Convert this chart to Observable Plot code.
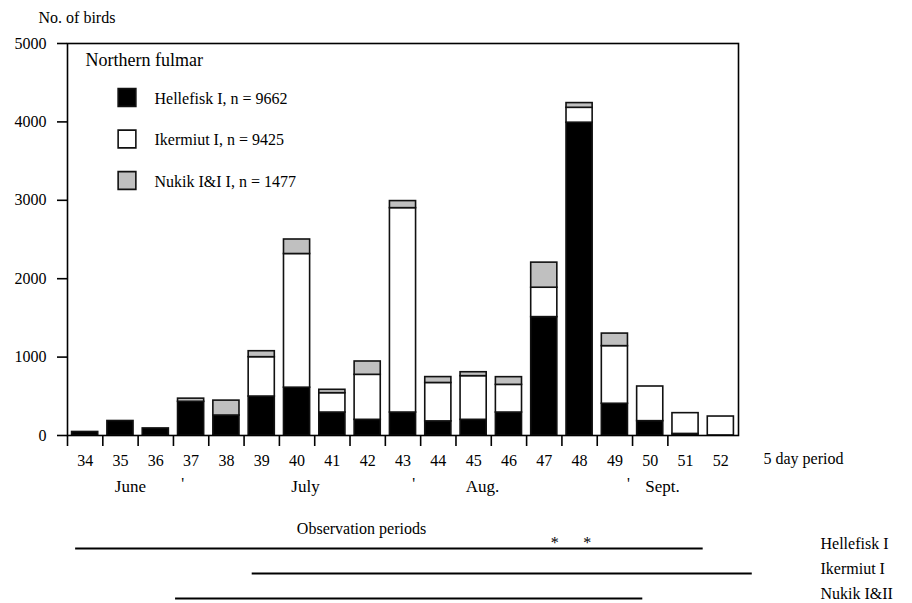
<!DOCTYPE html>
<html>
<head>
<meta charset="utf-8">
<script src="https://cdn.jsdelivr.net/npm/d3@7"></script>
<script src="https://cdn.jsdelivr.net/npm/@observablehq/plot@0.6"></script>
<style>
  html, body { margin: 0; padding: 0; background: white; }
  #chart { width: 912px; height: 603px; overflow: hidden; }
  #chart svg { display: block; }
</style>
</head>
<body>
<div id="chart"></div>
<script>
// Five-day periods (x axis)
const periods = [34, 35, 36, 37, 38, 39, 40, 41, 42, 43, 44, 45, 46, 47, 48, 49, 50, 51, 52];

// Number of Northern fulmars per five-day period, per colony
const hellefisk = [45, 185, 90, 430, 255, 497, 610, 293, 200, 293, 180, 200, 293, 1510, 3990, 405, 183, 20, 0];
const ikermiut  = [0, 0, 0, 0, 0, 502, 1705, 247, 574, 2607, 490, 557, 353, 375, 190, 735, 442, 265, 242];
const nukik     = [0, 0, 0, 40, 190, 76, 185, 43, 170, 90, 75, 50, 98, 320, 60, 160, 0, 0, 0];

// Legend entries and fills
const seriesNames = ["Hellefisk I, n = 9662", "Ikermiut I, n = 9425", "Nukik I&I I, n = 1477"];
const seriesFills = ["#000000", "#ffffff", "#c0c0c0"];

// Y axis ticks
const yTicks = [0, 1000, 2000, 3000, 4000, 5000];

// Month labels under the period axis and the marks separating them
const monthNames = ["June", "July", "Aug.", "Sept."];
const monthCentres = [35.28, 40.24, 45.25, 50.35];
const monthBreaks = [36.76, 43.30, 49.38];

// Observation periods per colony (in period units)
const obsSites = ["Hellefisk I", "Ikermiut I", "Nukik I&II"];
const obsStart = [33.73, 38.73, 36.56];
const obsEnd = [51.5, 52.89, 49.79];
const starPeriods = [47.3, 48.22];

// Stack the three colonies per period: black at the bottom, white, then grey
const series = [hellefisk, ikermiut, nukik];
const rows = [];
periods.forEach((p, i) => {
  let base = 0;
  series.forEach((s, k) => {
    const v = s[i];
    if (v > 0) rows.push({period: p, site: seriesNames[k], y1: base, y2: base + v});
    base += v;
  });
});

const BAR_HALF = 0.37;
const font = "'Liberation Serif', 'DejaVu Serif', serif";
const xDomain = [33.5, 52.5];
const xRange = [67, 738];
const boundaries = periods.slice(0, -1).map(p => p - 0.5);

const legendMarks = seriesNames.flatMap((name, i) => [
  Plot.dot([name], {
    frameAnchor: "top-left", dx: 59.5, dy: 54 + i * 41.5,
    symbol: "square", r: 10, fill: d => d, stroke: "#111", strokeWidth: 1.6
  }),
  Plot.text([name], {
    frameAnchor: "top-left", lineAnchor: "middle", dx: 87, dy: 55 + i * 41.5,
    text: d => d, textAnchor: "start", fontSize: 16, fill: "black"
  })
]);

const main = Plot.plot({
  width: 912,
  height: 505,
  marginTop: 43,
  marginBottom: 70,
  marginLeft: 67,
  marginRight: 174,
  style: {fontFamily: font, fontSize: "16px", background: "white", color: "black"},
  x: {domain: xDomain, range: xRange, axis: null},
  y: {domain: [0, 5000], axis: null},
  color: {type: "ordinal", domain: seriesNames, range: seriesFills},
  marks: [
    Plot.rect(rows, {
      x1: d => d.period - BAR_HALF,
      x2: d => d.period + BAR_HALF,
      y1: "y1", y2: "y2",
      fill: "site", stroke: "#111", strokeWidth: 1.6
    }),
    Plot.frame({stroke: "black", strokeWidth: 1.6}),
    Plot.axisY({ticks: yTicks, tickSize: 10, tickPadding: 11, tickFormat: d => String(d),
      label: null, fontSize: 16, strokeWidth: 1.6}),
    Plot.axisX({ticks: boundaries, tickSize: 11, tickFormat: () => "", label: null, strokeWidth: 1.6}),
    Plot.axisX({ticks: periods, tickSize: 0, tickPadding: 19, tickFormat: d => String(d),
      label: null, fontSize: 16}),
    Plot.text(["No. of birds"], {frameAnchor: "top-left", lineAnchor: "middle", dx: -29, dy: -26,
      text: d => d, textAnchor: "start", fontSize: 16}),
    Plot.text(["5 day period"], {frameAnchor: "bottom-right", lineAnchor: "middle", dx: 25, dy: 23,
      text: d => d, textAnchor: "start", fontSize: 16}),
    Plot.text(monthNames, {x: (d, i) => monthCentres[i], frameAnchor: "bottom", lineAnchor: "middle",
      dy: 51, text: d => d, textAnchor: "middle", fontSize: 17}),
    Plot.text(monthBreaks, {x: d => d, frameAnchor: "bottom", lineAnchor: "middle", dy: 48,
      text: () => "'", textAnchor: "middle", fontSize: 16}),
    Plot.text(["Northern fulmar"], {frameAnchor: "top-left", lineAnchor: "middle", dx: 18, dy: 17,
      text: d => d, textAnchor: "start", fontSize: 18}),
    ...legendMarks
  ]
});

const obs = Plot.plot({
  width: 912,
  height: 98,
  marginTop: 0,
  marginBottom: 0,
  marginLeft: 67,
  marginRight: 174,
  style: {fontFamily: font, fontSize: "16px", background: "white", color: "black"},
  x: {domain: xDomain, range: xRange, axis: null},
  y: {type: "point", domain: obsSites, range: [42, 93], padding: 0, axis: null},
  marks: [
    Plot.ruleY(obsSites, {y: d => d, x1: (d, i) => obsStart[i], x2: (d, i) => obsEnd[i],
      stroke: "black", strokeWidth: 1.8}),
    Plot.text(starPeriods, {x: d => d, y: () => obsSites[0], text: () => "*", dy: -6,
      fontSize: 16}),
    Plot.text(["Observation periods"], {frameAnchor: "top-left", lineAnchor: "middle", dx: 294, dy: 23,
      text: d => d, textAnchor: "middle", fontSize: 16}),
    Plot.text(obsSites, {y: d => d, frameAnchor: "right", dx: 82, dy: -5,
      text: d => d, textAnchor: "start", lineAnchor: "middle", fontSize: 16})
  ]
});

document.getElementById("chart").append(main, obs);
</script>
</body>
</html>
